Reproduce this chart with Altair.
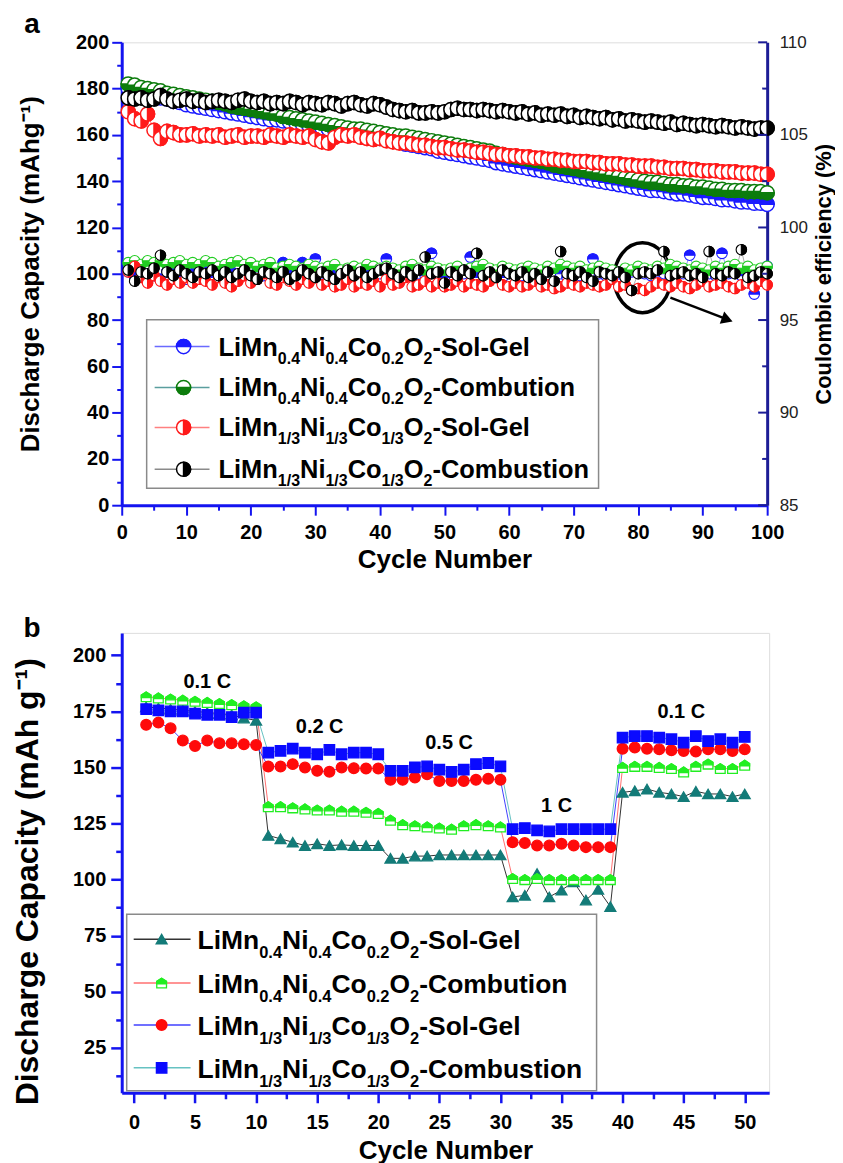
import altair as alt
import pandas as pd

FONT = "Liberation Sans"

# ---------------- Panel a data ----------------
cycles_a = list(range(1, 101))

cap_mn04_solgel = [
    180.0, 179.0, 178.5, 177.5, 177.0, 176.0, 175.5, 174.5, 174.0, 173.0,
    172.5, 172.0, 171.5, 171.0, 170.5, 170.0, 169.5, 169.0, 168.5, 168.0,
    167.5, 167.0, 166.5, 166.5, 166.0, 165.5, 165.0, 164.5, 164.0, 163.5,
    163.0, 162.5, 162.0, 161.5, 161.0, 160.5, 160.0, 159.5, 159.0, 158.5,
    158.0, 157.5, 157.0, 156.0, 155.5, 155.0, 154.5, 154.0, 153.0, 152.5,
    152.0, 151.5, 151.0, 150.5, 150.0, 149.5, 149.0, 148.0, 147.5, 147.0,
    146.5, 146.0, 145.5, 145.0, 144.5, 144.0, 143.5, 143.0, 142.5, 142.0,
    141.5, 141.0, 140.5, 140.0, 139.5, 139.0, 138.5, 138.0, 137.5, 137.0,
    136.5, 136.0, 136.0, 135.5, 135.0, 134.5, 134.5, 134.0, 133.5, 133.0,
    133.0, 132.5, 132.0, 132.0, 131.5, 131.0, 131.0, 130.5, 130.5, 130.0]
cap_mn04_comb = [
    182.0, 181.5, 180.5, 180.0, 179.5, 179.0, 178.0, 177.5, 177.0, 176.5,
    176.0, 175.5, 175.0, 174.5, 174.0, 173.5, 172.5, 172.0, 171.5, 171.0,
    170.5, 170.0, 169.5, 169.0, 168.0, 167.5, 167.0, 166.5, 166.0, 165.5,
    165.0, 164.5, 164.0, 163.5, 163.0, 162.5, 162.5, 162.0, 161.5, 161.0,
    160.5, 160.0, 159.5, 159.5, 159.0, 158.5, 158.0, 157.5, 157.0, 156.5,
    156.0, 155.5, 155.0, 154.5, 154.0, 153.5, 153.0, 152.0, 151.5, 151.0,
    150.5, 150.0, 149.5, 149.0, 148.5, 148.0, 147.0, 146.5, 146.0, 145.5,
    145.0, 144.5, 144.0, 143.5, 143.0, 142.5, 142.0, 141.5, 141.0, 140.5,
    140.0, 139.5, 139.5, 139.0, 138.5, 138.5, 138.0, 138.0, 137.5, 137.5,
    137.0, 136.5, 136.5, 136.0, 136.0, 136.0, 135.5, 135.5, 135.5, 135.0]
cap_mn13_solgel = [
    170.0, 167.0, 166.0, 169.0, 162.0, 158.5, 161.5, 161.0, 160.0, 160.0,
    160.5, 159.5, 160.0, 159.5, 160.0, 159.0, 159.5, 160.0, 159.0, 159.5,
    159.5, 159.0, 160.0, 159.5, 159.0, 160.0, 159.5, 159.0, 159.5, 158.0,
    157.0, 156.5, 159.0, 160.0, 159.5, 160.0, 159.0, 158.5, 158.0, 158.5,
    157.5, 157.0, 156.5, 156.5, 156.0, 155.5, 155.5, 155.0, 154.5, 154.5,
    154.0, 153.5, 153.5, 153.0, 152.5, 152.5, 152.0, 151.5, 151.5, 151.0,
    151.0, 150.5, 150.5, 150.0, 150.0, 149.5, 149.5, 149.0, 149.0, 148.5,
    148.5, 148.5, 148.0, 148.0, 147.5, 147.5, 147.5, 147.0, 147.0, 146.5,
    146.5, 146.5, 146.0, 146.0, 145.5, 145.5, 145.5, 145.0, 145.0, 144.5,
    144.5, 144.5, 144.0, 144.0, 144.0, 143.5, 143.5, 143.5, 143.0, 143.0]
cap_mn13_comb = [
    176.0, 175.5, 176.0, 175.0, 175.5, 177.0, 175.5, 174.5, 175.0, 175.5,
    174.5, 175.0, 174.0, 174.5, 175.0, 174.5, 174.0, 175.0, 175.5, 174.5,
    174.0, 174.5, 173.5, 174.0, 173.5, 174.5, 174.0, 173.0, 174.0, 173.5,
    173.0, 174.0, 173.5, 172.5, 173.5, 174.0, 173.0, 172.5, 173.5, 173.0,
    172.0, 171.0, 170.5, 170.0, 170.5, 169.5, 169.5, 170.0, 169.5, 170.0,
    171.0, 171.5, 171.0, 171.0, 170.5, 171.0, 170.5, 170.0, 170.5, 170.0,
    169.5, 170.0, 169.0, 169.5, 168.5, 169.0, 168.5, 169.0, 168.0, 168.5,
    167.5, 168.0, 167.5, 167.0, 167.5, 166.5, 167.0, 166.0, 166.5, 166.0,
    165.5, 166.0, 165.5, 165.0, 165.5, 164.5, 165.0, 164.5, 164.0, 164.5,
    164.0, 163.5, 164.0, 163.5, 163.0, 163.5, 163.0, 162.5, 163.0, 163.0]

ce_mn04_solgel = [
    97.6, 97.3, 97.6, 97.5, 97.4, 97.2, 97.6, 97.5, 97.3, 97.2,
    97.5, 97.4, 97.6, 97.3, 97.5, 97.2, 97.6, 97.4, 97.5, 97.3,
    97.6, 97.4, 97.5, 97.6, 98.1, 97.4, 97.5, 98.1, 97.3, 98.3,
    97.5, 97.6, 97.4, 97.5, 97.3, 97.8, 97.5, 97.4, 97.6, 97.5,
    98.3, 97.5, 97.4, 97.6, 97.3, 97.5, 97.4, 98.6, 97.5, 97.3,
    97.6, 97.4, 97.5, 98.4, 97.3, 97.6, 97.4, 97.5, 97.3, 97.6,
    97.5, 97.4, 97.6, 97.3, 97.5, 97.4, 97.6, 97.5, 97.3, 97.5,
    97.4, 97.6, 98.3, 97.5, 97.4, 97.6, 97.5, 97.3, 97.6, 97.7,
    97.5, 97.4, 97.6, 97.5, 97.3, 97.6, 97.5, 98.5, 97.4, 97.6,
    97.5, 97.4, 98.6, 97.5, 97.6, 97.4, 97.5, 96.4, 97.6, 97.9]
ce_mn04_comb = [
    98.1, 98.2, 98.0, 98.2, 98.1, 98.2, 98.0, 98.1, 98.2, 98.0,
    98.1, 98.0, 98.2, 98.1, 97.9, 98.0, 98.1, 98.2, 98.0, 98.1,
    97.9, 98.0, 98.1, 97.8, 97.9, 98.0, 97.9, 97.8, 98.0, 97.9,
    97.8, 97.9, 98.0, 97.7, 97.8, 97.9, 97.8, 98.0, 97.9, 97.8,
    97.9, 97.8, 97.7, 97.9, 98.0, 97.8, 97.7, 97.9, 97.8, 97.7,
    97.8, 97.9, 97.7, 97.8, 97.9, 98.0, 97.8, 97.7, 97.9, 97.8,
    97.7, 97.8, 97.9, 97.8, 97.7, 97.9, 97.8, 98.0, 97.9, 97.8,
    97.9, 97.7, 97.8, 97.9, 97.8, 97.7, 97.6, 97.8, 97.7, 97.9,
    97.8, 97.7, 97.9, 97.8, 98.0, 97.9, 97.8, 97.7, 97.9, 97.8,
    97.7, 97.9, 97.8, 97.9, 98.0, 97.8, 97.9, 97.7, 97.8, 97.9]
ce_mn13_solgel = [
    97.6, 97.9, 97.3, 97.0, 97.4, 97.1, 96.9, 97.2, 97.0, 97.3,
    97.0, 97.2, 97.1, 96.9, 97.3, 97.0, 96.8, 97.1, 97.4, 97.0,
    97.2, 97.5, 97.0, 96.9, 97.3, 97.1, 96.9, 97.2, 97.0, 97.3,
    96.9, 97.1, 96.8, 96.9, 97.2, 96.8, 97.0, 96.9, 97.1, 96.8,
    97.2, 96.9, 97.0, 97.3, 96.8, 96.9, 97.1, 96.8, 97.0, 96.8,
    96.9, 97.1, 96.8, 97.0, 96.9, 96.8, 97.1, 97.3, 96.9, 96.8,
    97.0, 96.8, 96.9, 97.1, 96.8, 96.9, 96.7, 96.8, 97.0, 96.9,
    96.8, 97.0, 96.9, 96.8, 96.9, 97.2, 96.8, 96.9, 96.6, 96.7,
    96.6, 96.8, 97.0, 96.9, 96.8, 97.0, 96.8, 96.7, 96.9, 97.1,
    96.8, 96.9, 97.0, 96.8, 96.7, 96.9, 97.0, 96.8, 97.1, 96.9]
ce_mn13_comb = [
    97.7, 97.1, 97.6, 97.5, 97.8, 98.5, 97.6, 97.4, 97.7, 97.5,
    97.3, 97.6, 97.5, 97.7, 97.4, 97.6, 97.3, 97.5, 97.7, 97.4,
    97.2, 97.6, 97.5, 97.3, 97.6, 97.2, 97.4, 97.7, 97.5, 97.3,
    97.6, 97.4, 97.2, 97.5, 97.7, 97.4, 97.6, 97.3, 97.5, 97.7,
    97.8, 97.5, 97.3, 97.6, 97.4, 97.7, 98.4, 97.5, 97.6, 97.0,
    97.6, 97.4, 97.7, 97.5, 98.6, 97.4, 97.6, 97.3, 97.7, 97.5,
    97.4, 97.6, 97.3, 97.5, 97.2, 97.6, 97.1, 98.7, 97.5, 97.4,
    97.6, 97.3, 97.1, 97.6, 97.5, 97.4, 97.6, 97.3, 96.6, 97.5,
    97.6, 97.5, 97.7, 98.7, 97.4, 97.5, 97.6, 97.4, 97.5, 97.3,
    98.7, 97.5, 97.4, 97.6, 97.5, 98.8, 97.3, 97.4, 97.6, 97.5]

# ---------------- Panel b data ----------------
cycles_b = list(range(1, 51))
b_mn04_solgel = [
    177, 176.5, 176, 175.5, 175, 174.5, 174, 173.5, 172, 171,
    119.7, 118.2, 116.7, 115.2, 116, 115.2, 115.5, 115.2, 115.2, 115.2,
    109.5, 109.5, 110.5, 110.5, 111, 111, 111, 111, 111, 111,
    92.3, 93, 102.7, 92.3, 95.3, 99, 90.9, 95.7, 88,
    138.9, 139.6, 140.4, 138.9, 138.2, 137, 139.4, 138.2, 138.2, 137, 138.2]
b_mn04_comb = [
    181.5, 181, 180.5, 180, 179.5, 179, 178.5, 178, 177.5, 177,
    132.5, 132.5, 132, 131.5, 131, 131, 130.5, 130.5, 130, 129.5,
    126.5, 124.5, 124, 123.5, 123, 122.5, 124, 124.5, 124, 123.5,
    100.5, 100, 100.5, 100, 100, 100, 100, 100, 100,
    150, 150.5, 150.5, 150, 149.5, 148, 150.5, 151.5, 149.5, 149.5, 151]
b_mn13_solgel = [
    169, 170, 167.5, 162, 159.6, 162, 160.8, 160.8, 160.4, 160,
    150.4, 150.4, 151.5, 150, 148.5, 148.1, 150, 149.7, 149.6, 149.6,
    144.5, 144.5, 145.5, 147, 144, 144, 144, 144.5, 145, 144.5,
    116.7, 116.3, 115.2, 115.2, 116, 115.2, 114.5, 114.5, 114.5,
    158.4, 158.9, 158.4, 158.1, 157.7, 157.4, 157.1, 158.1, 158.1, 157.4, 158.1]
b_mn13_comb = [
    176, 175.5, 175, 175, 174, 173.5, 173.5, 172.5, 174.5, 174.5,
    156.6, 157.4, 158.4, 156.6, 155.9, 157.8, 155.9, 156.6, 156.6, 155.9,
    148.5, 148.5, 150, 150.5, 149, 148, 149, 151.5, 152, 150.5,
    122.5, 123, 122, 121.5, 122.5, 122.5, 122.5, 122.5, 122.5,
    163.3, 164, 164, 163.3, 162.6, 161.1, 164, 161.8, 162.6, 161.1, 163.6]

rate_labels = ["0.1 C", "0.2 C", "0.5 C", "1 C", "0.1 C"]
rate_x = [6.0, 15.2, 25.8, 34.6, 44.8]
rate_y = [188.0, 168.0, 161.0, 133.0, 174.7]

# legend texts (segment, is_subscript)
legend_a = [
    [("LiMn", 0), ("0.4", 1), ("Ni", 0), ("0.4", 1), ("Co", 0), ("0.2", 1), ("O", 0), ("2", 1), ("-Sol-Gel", 0)],
    [("LiMn", 0), ("0.4", 1), ("Ni", 0), ("0.4", 1), ("Co", 0), ("0.2", 1), ("O", 0), ("2", 1), ("-Combution", 0)],
    [("LiMn", 0), ("1/3", 1), ("Ni", 0), ("1/3", 1), ("Co", 0), ("1/3", 1), ("O", 0), ("2", 1), ("-Sol-Gel", 0)],
    [("LiMn", 0), ("1/3", 1), ("Ni", 0), ("1/3", 1), ("Co", 0), ("1/3", 1), ("O", 0), ("2", 1), ("-Combustion", 0)],
]
legend_b = legend_a

# ---------------- styling ----------------
BLUE_AX = "#1414f0"
NAVY = "#1c1c96"
PATH = {
    "circle": "M-1,0A1,1,0,1,1,1,0A1,1,0,1,1,-1,0Z",
    "top": "M-1,0A1,1,0,0,1,1,0Z",
    "bottom": "M-1,0A1,1,0,0,0,1,0Z",
    "right": "M0,-1A1,1,0,0,1,0,1Z",
    "house": "M0,-1L1,-0.35L1,1L-1,1L-1,-0.35Z",
    "housetop": "M0,-1L1,-0.35L1,0.15L-1,0.15L-1,-0.35Z",
    "ellipse": "M-0.81,0A0.81,1,0,1,1,0.81,0A0.81,1,0,1,1,-0.81,0Z",
}
a_colors = ["#1a1aff", "#0c7c0c", "#ff1a1a", "#000000"]
a_lines = ["#6a6aff", "#5a9e9e", "#ff8080", "#8a8a8a"]
a_half = ["top", "bottom", "right", "right"]

WA, HA = 647, 464
WB, HB = 649, 461

def ax(px): return px / WA * 100.0
def ay(py): return 200.0 * (1 - py / HA)
def bx(px): return -1 + px / WB * 53.0
def by(py): return 5 + 205.0 * (1 - py / HB)

W = {'L': 611, 'i': 278, 'M': 833, 'n': 611, 'N': 722, 'C': 722, 'o': 611, 'O': 778, '-': 333,
     'S': 667, 'l': 278, 'G': 778, 'e': 556, 'b': 611, 'u': 611, 't': 333, 's': 556, '.': 278, '/': 278}
def tw(s, size):
    return sum(W.get(ch, 556) for ch in s) * size / 1000.0

def legend_text_rows(entries, x0, baselines, fmain, fsub, dsub, cx, cy):
    rows = []
    for segs, base in zip(entries, baselines):
        x = x0
        for s, sub in segs:
            f = fsub if sub else fmain
            yy = base + (dsub if sub else 0)
            rows.append(dict(x=cx(x), y=cy(yy), text=s, fs=f))
            x += tw(s, f)
    return pd.DataFrame(rows)

def major_cond(test, big, small):
    return {"condition": {"test": test, "value": big}, "value": small}

# ---------------- Panel a ----------------
X_A = alt.X("x:Q", scale=alt.Scale(domain=[0, 100], nice=False, zero=False),
            axis=alt.Axis(values=list(range(0, 101, 5)), labelExpr="datum.value % 10 === 0 ? datum.label : ''",
                          tickSize=major_cond("datum.value % 10 === 0", 10, 5), tickWidth=2, tickColor=BLUE_AX,
                          domainColor=BLUE_AX, domainWidth=3, grid=False, labelFont=FONT, labelFontSize=20,
                          labelFontWeight="bold", labelColor="black", labelPadding=7, labelFlush=False,
                          title="Cycle Number", titleFont=FONT, titleFontSize=26, titleFontWeight="bold",
                          titleColor="black", titlePadding=4))
Y_A = alt.Y("y:Q", scale=alt.Scale(domain=[0, 200], nice=False, zero=False),
            axis=alt.Axis(orient="left", values=list(range(0, 201, 10)),
                          labelExpr="datum.value % 20 === 0 ? datum.label : ''",
                          tickSize=major_cond("datum.value % 20 === 0", 10, 5), tickWidth=2, tickColor=BLUE_AX,
                          domainColor=BLUE_AX, domainWidth=3, grid=False, labelFont=FONT, labelFontSize=20,
                          labelFontWeight="bold", labelColor="black", labelPadding=3, labelFlush=False,
                          title="Discharge Capacity (mAhg\u207b\u00b9)", titleFont=FONT, titleFontSize=26,
                          titleFontWeight="bold", titleColor="black", titlePadding=32))
Y_CE = alt.Y("y:Q", scale=alt.Scale(domain=[85, 110], nice=False, zero=False),
             axis=alt.Axis(orient="right", values=[85, 90, 95, 100, 105, 110], ticks=False,
                           domainColor=NAVY, domainWidth=3, grid=False, labelFont=FONT, labelFontSize=17,
                           labelColor="#222222", labelPadding=12, labelFlush=False,
                           title="Coulombic efficiency (%)", titleFont=FONT, titleFontSize=22,
                           titleFontWeight="bold", titleColor="black", titleAngle=270, titlePadding=28))

cap_series = [cap_mn04_solgel, cap_mn04_comb, cap_mn13_solgel, cap_mn13_comb]
ce_series = [ce_mn04_solgel, ce_mn04_comb, ce_mn13_solgel, ce_mn13_comb]

def line_df(series_list, xs, colors):
    rows = []
    for i, (s, c) in enumerate(zip(series_list, colors)):
        for x, y in zip(xs, s):
            rows.append(dict(x=x, y=y, series=str(i), lc=c))
    return pd.DataFrame(rows)

def half_df(series_list, xs, colors, halves):
    rows = []
    for s, c, h in zip(series_list, colors, halves):
        for x, y in zip(xs, s):
            rows.append(dict(x=x, y=y, shape=PATH["circle"], fill="white", stroke=c))
            rows.append(dict(x=x, y=y, shape=PATH[h], fill=c, stroke=c))
    return pd.DataFrame(rows)

def lines_chart(df, X, Y, width=1.0):
    return alt.Chart(df).mark_line(strokeWidth=width).encode(
        x=X, y=Y, detail="series:N", color=alt.Color("lc:N", scale=None), order="x:Q")

def sym_chart(df, X, Y, size, sw=1.2):
    return alt.Chart(df).mark_point(filled=True, opacity=1, size=size, strokeWidth=sw).encode(
        x=X, y=Y, shape=alt.Shape("shape:N", scale=None), fill=alt.Fill("fill:N", scale=None),
        stroke=alt.Stroke("stroke:N", scale=None))

cap_lines = lines_chart(line_df(cap_series, cycles_a, a_lines), X_A, Y_A)
cap_syms = sym_chart(half_df(cap_series, cycles_a, a_colors, a_half), X_A, Y_A, 200, 1.5)

# annotation: ellipse + arrow
ell = alt.Chart(pd.DataFrame([dict(x=ax(522), y=ay(236))])).mark_point(
    shape=PATH["ellipse"], size=4900, filled=False, stroke="black", strokeWidth=3.5, opacity=1).encode(x=X_A, y=Y_A)
arrow = alt.Chart(pd.DataFrame([dict(x=ax(550), y=ay(256), x2=ax(605), y2=ay(277))])).mark_rule(
    color="black", strokeWidth=2.5).encode(x=X_A, y=Y_A, x2="x2:Q", y2="y2:Q")
arrow_head = alt.Chart(pd.DataFrame([dict(x=ax(607), y=ay(278))])).mark_point(
    shape="triangle-right", size=170, filled=True, color="black", opacity=1, angle=20).encode(x=X_A, y=Y_A)

# legend a
la_rows = [305, 346, 386, 428]
leg_a_box = alt.Chart(pd.DataFrame([dict(x=ax(25), x2=ax(478), y=ay(278), y2=ay(447))])).mark_rect(
    fill="white", stroke="#8a8a8a", strokeWidth=1.5).encode(x=X_A, x2="x2:Q", y=Y_A, y2="y2:Q")
leg_a_lines = alt.Chart(pd.DataFrame([dict(x=ax(33), x2=ax(88), y=ay(r), lc=c) for r, c in zip(la_rows, a_lines)])).mark_rule(
    strokeWidth=1.5).encode(x=X_A, x2="x2:Q", y=Y_A, color=alt.Color("lc:N", scale=None))
leg_a_syms = sym_chart(half_df([[ay(r)] for r in la_rows], [ax(62)], a_colors, a_half), X_A, Y_A, 200, 1.5)
leg_a_text = alt.Chart(legend_text_rows(legend_a, 97, [r + 9 for r in la_rows], 25.5, 16, 8, ax, ay)).mark_text(
    font=FONT, fontWeight="bold", align="left", baseline="alphabetic", color="black").encode(
    x=X_A, y=Y_A, text="text:N", size=alt.Size("fs:Q", scale=None))
letter_a = alt.Chart(pd.DataFrame([dict(x=ax(-90), y=ay(-9), text="a")])).mark_text(
    font=FONT, fontWeight="bold", fontSize=28, align="center", baseline="alphabetic", color="black").encode(
    x=X_A, y=Y_A, text="text:N")

ce_lines = lines_chart(line_df(ce_series, cycles_a, ["#7a7aff", "#66b066", "#ff9a9a", "#9a9a9a"]), X_A, Y_CE, 0.8)
ce_syms = sym_chart(half_df(ce_series, cycles_a, ["#1a1aff", "#22cc22", "#ff1a1a", "#000000"], a_half), X_A, Y_CE, 110, 1.1)
ce_tick_vals = [85 + 2.5 * i for i in range(11)]
ce_ticks = alt.Chart(pd.DataFrame([dict(x=100 - (9 if v % 5 == 0 else 5) / WA * 100, x2=100, y=v) for v in ce_tick_vals])).mark_rule(
    color=NAVY, strokeWidth=2).encode(x=X_A, x2="x2:Q", y=Y_CE)

left_a = alt.layer(cap_lines, cap_syms, ell, arrow, arrow_head, leg_a_box, leg_a_lines, leg_a_syms, leg_a_text, letter_a)
right_a = alt.layer(ce_lines, ce_syms, ce_ticks)
chart_a = alt.layer(left_a, right_a).resolve_scale(y="independent").properties(width=WA, height=HA)

# ---------------- Panel b ----------------
X_B = alt.X("x:Q", scale=alt.Scale(domain=[-1, 52], nice=False, zero=False),
            axis=alt.Axis(values=[2.5 * i for i in range(21)], labelExpr="datum.value % 5 === 0 ? datum.label : ''",
                          tickSize=major_cond("datum.value % 5 === 0", 10, 6), tickWidth=2.5, tickColor=BLUE_AX,
                          domainColor=BLUE_AX, domainWidth=3, grid=False, labelFont=FONT, labelFontSize=20,
                          labelFontWeight="bold", labelColor="black", labelPadding=10, labelFlush=False,
                          title="Cycle Number", titleFont=FONT, titleFontSize=26, titleFontWeight="bold",
                          titleColor="black", titlePadding=5))
Y_B = alt.Y("y:Q", scale=alt.Scale(domain=[5, 210], nice=False, zero=False),
            axis=alt.Axis(values=[12.5 * i for i in range(1, 17)],
                          labelExpr="datum.value % 25 === 0 ? datum.label : ''",
                          tickSize=major_cond("datum.value % 25 === 0", 11, 6), tickWidth=2.5, tickColor=BLUE_AX,
                          domainColor=BLUE_AX, domainWidth=3, grid=False, labelFont=FONT, labelFontSize=20,
                          labelFontWeight="bold", labelColor="black", labelPadding=5, labelFlush=False,
                          title="Discharge Capacity (mAh g\u207b\u00b9)", titleFont=FONT, titleFontSize=32,
                          titleFontWeight="bold", titleColor="black", titlePadding=28, titleY=249))

b_series = [b_mn04_solgel, b_mn04_comb, b_mn13_solgel, b_mn13_comb]
b_lines_c = ["#333333", "#ff7070", "#4040ff", "#66c2c2"]
TEAL, GREEN, RED, BLUE = "#137b78", "#22ee22", "#ff0a0a", "#0a0aff"

def b_marker_rows(s_list, xs):
    rows = []
    teal, green, red, blue = s_list
    for x, y in zip(xs, teal):
        rows.append(dict(x=x, y=y, shape="triangle-up", fill=TEAL, stroke=TEAL, sz=120))
    for x, y in zip(xs, green):
        rows.append(dict(x=x, y=y, shape=PATH["house"], fill="white", stroke=GREEN, sz=95))
        rows.append(dict(x=x, y=y, shape=PATH["housetop"], fill=GREEN, stroke=GREEN, sz=95))
    for x, y in zip(xs, red):
        rows.append(dict(x=x, y=y, shape="circle", fill=RED, stroke=RED, sz=115))
    for x, y in zip(xs, blue):
        rows.append(dict(x=x, y=y, shape="square", fill=BLUE, stroke=BLUE, sz=110))
    return pd.DataFrame(rows)

def bsym_chart(df, sw=1.3):
    return alt.Chart(df).mark_point(filled=True, opacity=1, strokeWidth=sw).encode(
        x=X_B, y=Y_B, shape=alt.Shape("shape:N", scale=None), fill=alt.Fill("fill:N", scale=None),
        stroke=alt.Stroke("stroke:N", scale=None), size=alt.Size("sz:Q", scale=None))

b_lines = lines_chart(line_df(b_series, cycles_b, b_lines_c), X_B, Y_B, 1.0)
b_syms = bsym_chart(b_marker_rows(b_series, cycles_b))
rates = alt.Chart(pd.DataFrame(dict(x=rate_x, y=rate_y, text=rate_labels))).mark_text(
    font=FONT, fontWeight="bold", fontSize=20, color="black", align="center", baseline="middle").encode(
    x=X_B, y=Y_B, text="text:N")

lb_rows = [307, 351, 393, 436]
leg_b_box = alt.Chart(pd.DataFrame([dict(x=bx(5), x2=bx(476), y=by(282), y2=by(459))])).mark_rect(
    fill="white", stroke="#8a8a8a", strokeWidth=1.5).encode(x=X_B, x2="x2:Q", y=Y_B, y2="y2:Q")
leg_b_lines = alt.Chart(pd.DataFrame([dict(x=bx(12), x2=bx(69), y=by(r), lc=c) for r, c in zip(lb_rows, b_lines_c)])).mark_rule(
    strokeWidth=1.5).encode(x=X_B, x2="x2:Q", y=Y_B, color=alt.Color("lc:N", scale=None))
leg_b_syms = bsym_chart(b_marker_rows([[by(r)] for r in lb_rows], [bx(40)]))
leg_b_text = alt.Chart(legend_text_rows(legend_b, 76, [r + 10 for r in lb_rows], 26.5, 16.5, 9, bx, by)).mark_text(
    font=FONT, fontWeight="bold", align="left", baseline="alphabetic", color="black").encode(
    x=X_B, y=Y_B, text="text:N", size=alt.Size("fs:Q", scale=None))
letter_b = alt.Chart(pd.DataFrame([dict(x=bx(-90), y=by(4), text="b")])).mark_text(
    font=FONT, fontWeight="bold", fontSize=28, align="center", baseline="alphabetic", color="black").encode(
    x=X_B, y=Y_B, text="text:N")

chart_b = alt.layer(b_lines, b_syms, rates, leg_b_box, leg_b_lines, leg_b_syms, leg_b_text, letter_b).properties(
    width=WB, height=HB)

chart = alt.vconcat(chart_a, chart_b, spacing=41).properties(
    padding={"left": 3, "top": 1, "right": 0, "bottom": 0}
).configure_view(stroke=BLUE_AX, strokeWidth=3).configure(background="white")

chart.save("out.html", embed_options={"renderer": "svg", "actions": False})
